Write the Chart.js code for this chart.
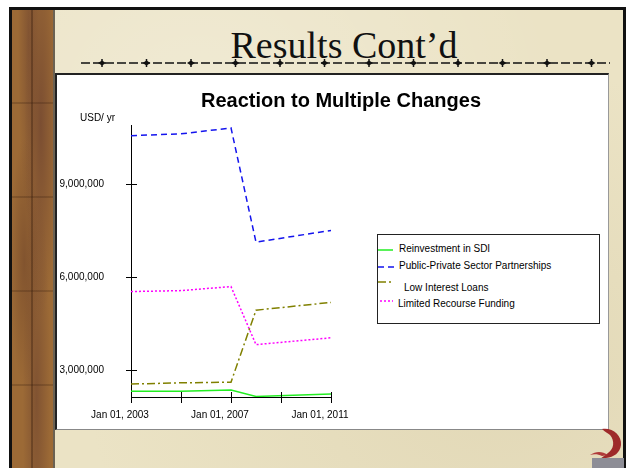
<!DOCTYPE html>
<html>
<head>
<meta charset="utf-8">
<script src="https://cdn.jsdelivr.net/npm/chart.js@4.4.1/dist/chart.umd.min.js"></script>
<style>
html, body { margin:0; padding:0; background:#fff; width:632px; height:468px; overflow:hidden; }
body { position:relative; font-family:"Liberation Sans", Arial, sans-serif; }
#slide { position:absolute; left:9px; top:7px; width:611px; height:470px; border:3px solid #111; border-bottom:none;
  background:
    radial-gradient(ellipse at 30% 20%, rgba(255,255,255,.25), transparent 60%),
    radial-gradient(ellipse at 80% 80%, rgba(200,185,140,.25), transparent 60%),
    #ebe3c5; }
#wood { position:absolute; left:12px; top:10px; width:41px; height:458px;
  background:
    linear-gradient(90deg, transparent 19px, rgba(50,25,10,.35) 19px, rgba(50,25,10,.35) 21px, transparent 21px),
    repeating-linear-gradient(180deg, transparent 0 92px, rgba(50,25,10,.22) 92px 94px),
    radial-gradient(ellipse at 70% 25%, rgba(90,50,45,.5), transparent 40%),
    radial-gradient(ellipse at 30% 55%, rgba(90,50,35,.4), transparent 35%),
    radial-gradient(ellipse at 60% 85%, rgba(95,55,45,.45), transparent 40%),
    radial-gradient(ellipse at 40% 5%, rgba(95,55,45,.4), transparent 30%),
    #9c6a36; }
#woodEdge { position:absolute; left:53px; top:10px; width:2px; height:458px; background:#6b6253; }
#slideTitle { position:absolute; left:144px; top:26px; width:400px; text-align:center;
  font-family:"Liberation Serif", "Times New Roman", serif; font-size:38px; line-height:38px; color:#111; }
#deco { position:absolute; left:75px; top:55px; }
#panel { position:absolute; left:55px; top:73px; width:554px; height:357px; box-sizing:border-box; background:#fff;
  border-top:2px solid #222; border-left:2px solid #222; border-right:1px solid #999; border-bottom:1px solid #888; }
#chart { position:absolute; left:56px; top:74px; }
#chartTitle { position:absolute; left:141px; top:90px; width:400px; text-align:center; font-weight:bold; font-size:20px; line-height:20px; color:#000; }
#unit { position:absolute; left:80px; top:113px; font-size:10px; line-height:10px; color:#000; }
#legend { position:absolute; left:377px; top:234px; width:223px; height:90px; box-sizing:border-box; border:1px solid #222; background:#fff; }
.lg { position:absolute; font-size:10px; line-height:10px; color:#000; white-space:nowrap; }
#logo { position:absolute; left:588px; top:425px; }
</style>
</head>
<body>
<div id="slide"></div>
<div id="wood"></div>
<div id="woodEdge"></div>
<div id="slideTitle">Results Cont’d</div>
<svg id="deco" width="540" height="16"></svg>
<div id="panel"></div>
<canvas id="chart" width="552" height="356"></canvas>
<div id="chartTitle">Reaction to Multiple Changes</div>
<div id="unit">USD/ yr</div>
<div id="legend"></div>
<svg id="logo" width="40" height="43">
  <path d="M14 4 C24 2 34 10 33 20 C32 28 26 32 18 33 L12 34 L20 28 C26 24 27 16 22 10 C20 8 17 7 14 4 Z" fill="#9e2a2a"/>
  <path d="M2 30 C8 26 14 26 20 30 L14 31 C10 29 6 29 2 30 Z" fill="#b03a3a"/>
  <rect x="4" y="33" width="32" height="10" fill="#8d8d96"/>
</svg>
<script>
// years on the time axis (data points)
const years = [2003, 2005, 2007, 2008, 2011];
const reinvestment    = [2330000, 2330000, 2365000, 2160000, 2240000];
const partnerships    = [10560000, 10620000, 10810000, 7130000, 7510000];
const lowInterest     = [2560000, 2600000, 2620000, 4940000, 5190000];
const limitedRecourse = [5540000, 5570000, 5700000, 3830000, 4050000];

const seriesNames  = ['Reinvestment in SDI', 'Public-Private Sector Partnerships', 'Low Interest Loans', 'Limited Recourse Funding'];
const seriesColors = ['#22ee22', '#1414ee', '#808000', '#ff00ff'];
const seriesDash   = [[], [6, 4], [8, 3, 2, 3], [2, 2]];

const xTickYears  = [2003, 2005, 2007, 2009, 2011];
const xLabelYears = [2003, 2007, 2011];
const yTicks = [3000000, 6000000, 9000000];
const yMin = 2143000;
const yMax = 10905000;

// decorative rule under the slide title
(function () {
  const svg = document.getElementById('deco');
  let s = '<line x1="6" y1="8" x2="535" y2="8" stroke="#111" stroke-width="1.6" stroke-dasharray="9 3"/>';
  for (let i = 0; i < 12; i++) {
    const cx = 27 + i * 44.5;
    s += '<path d="M' + (cx - 4) + ' 8 L' + cx + ' 5.5 L' + (cx + 4) + ' 8 L' + cx + ' 10.5 Z" fill="#111"/>';
    s += '<line x1="' + cx + '" y1="4" x2="' + cx + '" y2="12" stroke="#111" stroke-width="1.5"/>';
  }
  svg.innerHTML = s;
})();

// legend built from series arrays
(function () {
  const rowStyle = [
    {line: [1, 15, 15], text: [22, 10]},
    {line: [1, 32, 18], text: [22, 27]},
    {line: [1, 47, 16], text: [27, 49]},
    {line: [3, 66, 13], text: [21, 65]}
  ];
  const lg = document.getElementById('legend');
  seriesNames.forEach((name, i) => {
    const r = rowStyle[i];
    const sv = document.createElementNS('http://www.w3.org/2000/svg', 'svg');
    sv.setAttribute('width', r.line[2]);
    sv.setAttribute('height', 4);
    sv.style.position = 'absolute';
    sv.style.left = r.line[0] - 1 + 'px';
    sv.style.top = (r.line[1] - 2) + 'px';
    sv.innerHTML = '<line x1="0" y1="2" x2="' + r.line[2] + '" y2="2" stroke="' + seriesColors[i] +
      '" stroke-width="1.5" stroke-dasharray="' + (seriesDash[i].length ? seriesDash[i].join(' ') : 'none') + '"/>';
    lg.appendChild(sv);
    const t = document.createElement('div');
    t.className = 'lg';
    t.style.left = r.text[0] - 1 + 'px';
    t.style.top = r.text[1] - 1 + 'px';
    t.textContent = name;
    lg.appendChild(t);
  });
})();

const crossTicks = {
  id: 'crossTicks',
  afterDraw(chart) {
    const ctx = chart.ctx, xs = chart.scales.x, ys = chart.scales.y;
    ctx.save();
    ctx.strokeStyle = '#000';
    ctx.lineWidth = 1;
    ctx.beginPath();
    ys.ticks.forEach(t => {
      const p = Math.round(ys.getPixelForValue(t.value)) + 0.5;
      ctx.moveTo(xs.left - 5, p);
      ctx.lineTo(xs.left + 6, p);
    });
    xs.ticks.forEach(t => {
      const p = Math.round(xs.getPixelForValue(t.value)) + 0.5;
      ctx.moveTo(p, ys.bottom - 5);
      ctx.lineTo(p, ys.bottom + 6);
    });
    ctx.stroke();
    ctx.restore();
  }
};

Chart.defaults.font.family = '"Liberation Sans", Arial, sans-serif';
Chart.defaults.font.size = 10;
Chart.defaults.color = '#000';

const allSeries = [reinvestment, partnerships, lowInterest, limitedRecourse];

new Chart(document.getElementById('chart'), {
  type: 'line',
  data: {
    datasets: allSeries.map((vals, i) => ({
      label: seriesNames[i],
      data: years.map((x, j) => ({x: x, y: vals[j]})),
      borderColor: seriesColors[i],
      backgroundColor: seriesColors[i],
      borderDash: seriesDash[i],
      borderWidth: 1.5,
      pointRadius: 0,
      tension: 0,
      fill: false
    }))
  },
  options: {
    responsive: false,
    animation: false,
    devicePixelRatio: 1,
    layout: {padding: {top: 51, right: 277, left: 0, bottom: 0}},
    plugins: {legend: {display: false}, title: {display: false}, tooltip: {enabled: false}},
    scales: {
      x: {
        type: 'linear',
        min: 2003,
        max: 2011,
        grid: {display: false, drawTicks: false},
        border: {display: true, color: '#000', width: 1},
        afterBuildTicks: s => { s.ticks = xTickYears.map(v => ({value: v})); },
        afterFit: s => { s.height = 29; },
        ticks: {
          autoSkip: false,
          maxRotation: 0,
          padding: 12,
          labelOffset: -11,
          callback: v => xLabelYears.includes(v) ? 'Jan 01, ' + v : ''
        }
      },
      y: {
        min: yMin,
        max: yMax,
        grid: {display: false, drawTicks: false},
        border: {display: true, color: '#000', width: 1},
        afterBuildTicks: s => { s.ticks = yTicks.map(v => ({value: v})); },
        afterFit: s => { s.width = 75; },
        ticks: {
          padding: 27,
          callback: v => v.toLocaleString('en-US')
        }
      }
    }
  },
  plugins: [crossTicks]
});
</script>
</body>
</html>
